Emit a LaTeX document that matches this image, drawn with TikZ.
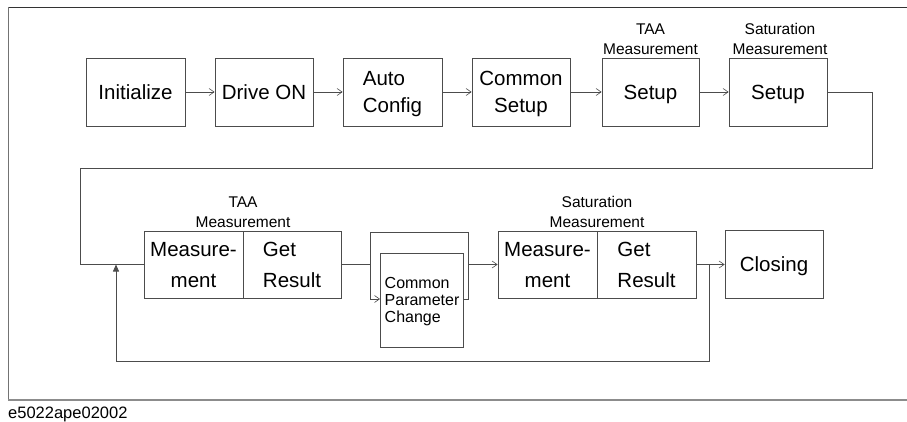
\documentclass[tikz,border=0pt]{standalone}
\usepackage{fontspec}
\setmainfont{Liberation Sans}
\usetikzlibrary{arrows.meta}
\begin{document}
\begin{tikzpicture}[x=1pt,y=-1pt,
  box/.style={draw=black!70, line width=0.8pt, inner sep=0pt, minimum height=67pt, text depth=0pt},
  big/.style={font={\fontsize{20.5}{27}\selectfont}},
  bigb/.style={font={\fontsize{20.5}{31}\selectfont}},
  small/.style={font={\fontsize{15.5}{20}\selectfont}, inner sep=0pt, align=center},
  conn/.style={draw=black!70, line width=0.8pt},
  arr/.style={conn, -{Straight Barb[length=5pt,width=7pt,line width=0.6pt]}},
  farr/.style={conn, -{Triangle[length=7pt,width=6pt]}}]
\useasboundingbox (0,0) rectangle (907,422);
% frame
\draw[black!80, line width=0.9pt] (8,7) -- (907,7);
\draw[black!55, line width=0.9pt] (8,7) -- (8,400);
\draw[black!45, line width=1.3pt] (8,400) -- (907,400);
\node[anchor=base west, inner sep=0pt, font={\fontsize{16.5}{20}\selectfont}] (foot) at (8,418) {e5022ape02002};
% top row
\node[box, big, minimum width=99pt, minimum height=68pt] (init) at (135.5,92) {Initialize};
\node[box, big, minimum width=98pt, minimum height=68pt] (drive) at (264,92) {Drive ON};
\node[box, big, minimum width=99pt, minimum height=68pt, align=left] (auto) at (392.5,92) {Auto\\Config};
\node[box, big, minimum width=98pt, minimum height=68pt, align=center] (common) at (521,92) {Common\\Setup};
\node[box, big, minimum width=97pt, minimum height=68pt] (taas) at (650.5,92) {Setup};
\node[box, big, minimum width=98pt, minimum height=68pt] (sats) at (778,92) {Setup};
\node[small, anchor=south] (taaslab) at (650.5,55) {TAA\\Measurement};
\node[small, anchor=south] (satslab) at (780,55) {Saturation\\Measurement};
\draw[arr] (init) -- (drive);
\draw[arr] (drive) -- (auto);
\draw[arr] (auto) -- (common);
\draw[arr] (common) -- (taas);
\draw[arr] (taas) -- (sats);
% bottom row
\node[box, bigb, minimum width=99pt, align=center] (taam) at (193.5,264.5) {Measure-\\ment};
\node[box, bigb, minimum width=98pt, align=left] (taar) at (292,264.5) {Get\\Result};
\node[small, anchor=south] (taamlab) at (243,228) {TAA\\Measurement};
\node[box, bigb, minimum width=99pt, align=center] (satm) at (547.5,264.5) {Measure-\\ment};
\node[box, bigb, minimum width=99pt, align=left] (satr) at (646.5,264.5) {Get\\Result};
\node[small, anchor=south] (satmlab) at (597,228) {Saturation\\Measurement};
\node[box, big, minimum width=98pt, minimum height=68pt] (closing) at (774,264.5) {Closing};
\coordinate (split) at (370,264.5);
\coordinate (join) at (468,264.5);
\coordinate (loop) at (709,264.5);
\coordinate (ret) at (116,264.5);
% bypass outline
\draw[conn] (taar.east) -- (split) -- (370,232) -- (468,232) -- (join);
\draw[arr] (split) |- (380,299);
\node[draw=black!70, line width=0.8pt, fill=white, minimum width=83pt, minimum height=94pt, inner sep=0pt, anchor=north west] (cpc) at (380,253) {};
\node[anchor=north west, inner sep=0pt, align=left, font={\fontsize{16}{17}\selectfont}] (cpctext) at (384.5,277.5) {Common\\Parameter\\Change};
\draw[conn] (cpc.east |- 0,299) -- (468,299) -- (join);
\draw[arr] (join) -- (satm.west);
\draw[arr] (satr.east) -- (closing.west);
% return paths
\draw[conn] (sats.east) -- (872,92) -- (872,168) -- (80,168) -- (80,264.5) -- (taam.west);
\draw[farr] (loop) -- (709,361) -- (116,361) -- (ret);
\end{tikzpicture}
\end{document}
